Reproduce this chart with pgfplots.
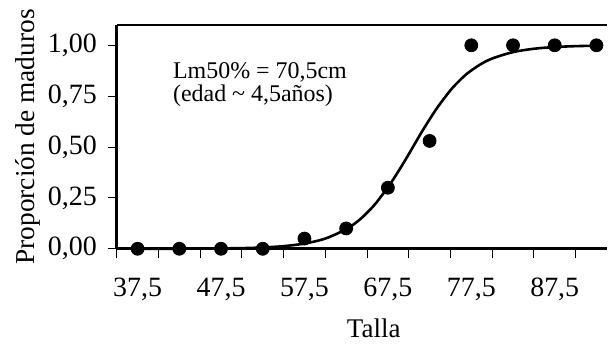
\documentclass[border=0pt]{standalone}
\usepackage{pgfplots}
\pgfplotsset{compat=1.18}
\usepackage{fontspec}
\setmainfont{Liberation Serif}
\begin{document}
\begin{tikzpicture}
\begin{axis}[
  scale only axis, width=245.5pt, height=112.15pt,
  xmin=35, xmax=93.73, ymin=0, ymax=1.1,
  clip=false,
  axis x line*=bottom, axis y line*=left,
  axis line style={line width=1.3pt, black},
  tick align=outside,
  major tick length=4.5pt,
  tick style={line width=0.5pt, black},
  xtick={35,40,45,50,55,60,65,70,75,80,85,90},
  xticklabels={},
  extra x ticks={37.5,47.5,57.5,67.5,77.5,87.5},
  extra x tick labels={{37,5},{47,5},{57,5},{67,5},{77,5},{87,5}},
  extra x tick style={major tick length=0pt},
  xticklabel style={font=\fontsize{14}{16}\selectfont, yshift=-11pt},
  ytick={0,0.25,0.5,0.75,1},
  yticklabels={{0,00},{0,25},{0,50},{0,75},{1,00}},
  yticklabel style={font=\fontsize{14}{16}\selectfont, xshift=-2pt},
  xlabel={Talla},
  xlabel style={font=\fontsize{13.5}{16}\selectfont, at={(rel axis cs:0.5,0)}, anchor=base, xshift=6pt, yshift=-44.5pt},
  ylabel={Proporción de maduros},
  ylabel style={font=\fontsize{13.7}{16}\selectfont, at={(rel axis cs:0,0.5)}, anchor=center, yshift=44.5pt},
]
\draw[line width=1.3pt, black] (rel axis cs:0,1) -- (rel axis cs:1,1);
\addplot[black, line width=1.3pt, smooth, no marks] coordinates {
(37.5,0.0001) (40,0.0002) (45,0.0008) (50,0.0032) (52.5,0.0064) (55,0.0129)
(57.5,0.0256) (60,0.0502) (62.5,0.0962) (64,0.139) (65,0.177) (66,0.221)
(67.5,0.302) (68.5,0.364) (69.5,0.430) (70.5,0.5) (71.5,0.570) (72.5,0.636)
(73.5,0.698) (75,0.779) (76,0.823) (77,0.861) (78.5,0.904) (80,0.935)
(82.5,0.9665) (85,0.983) (87.5,0.9915) (90,0.9958) (92.5,0.998)
};
\addplot[only marks, mark=*, mark size=3.25pt, black] coordinates {
(37.5,0) (42.5,0) (47.5,0) (52.5,0) (57.5,0.05) (62.5,0.10)
(67.5,0.30) (72.5,0.53) (77.5,1.0) (82.5,1.0) (87.5,1.0) (92.5,1.0)
};
\node[anchor=base west, inner sep=0pt, font=\fontsize{12}{14}\selectfont] at (axis cs:41.7,0.837) {Lm50\% = 70,5cm};
\node[anchor=base west, inner sep=0pt, font=\fontsize{12}{14}\selectfont] at (axis cs:41.7,0.7225) {(edad \textasciitilde{} 4,5años)};
\end{axis}
\useasboundingbox (-58.5pt,-46.85pt) rectangle (245.5pt,124.65pt);
\end{tikzpicture}
\end{document}
